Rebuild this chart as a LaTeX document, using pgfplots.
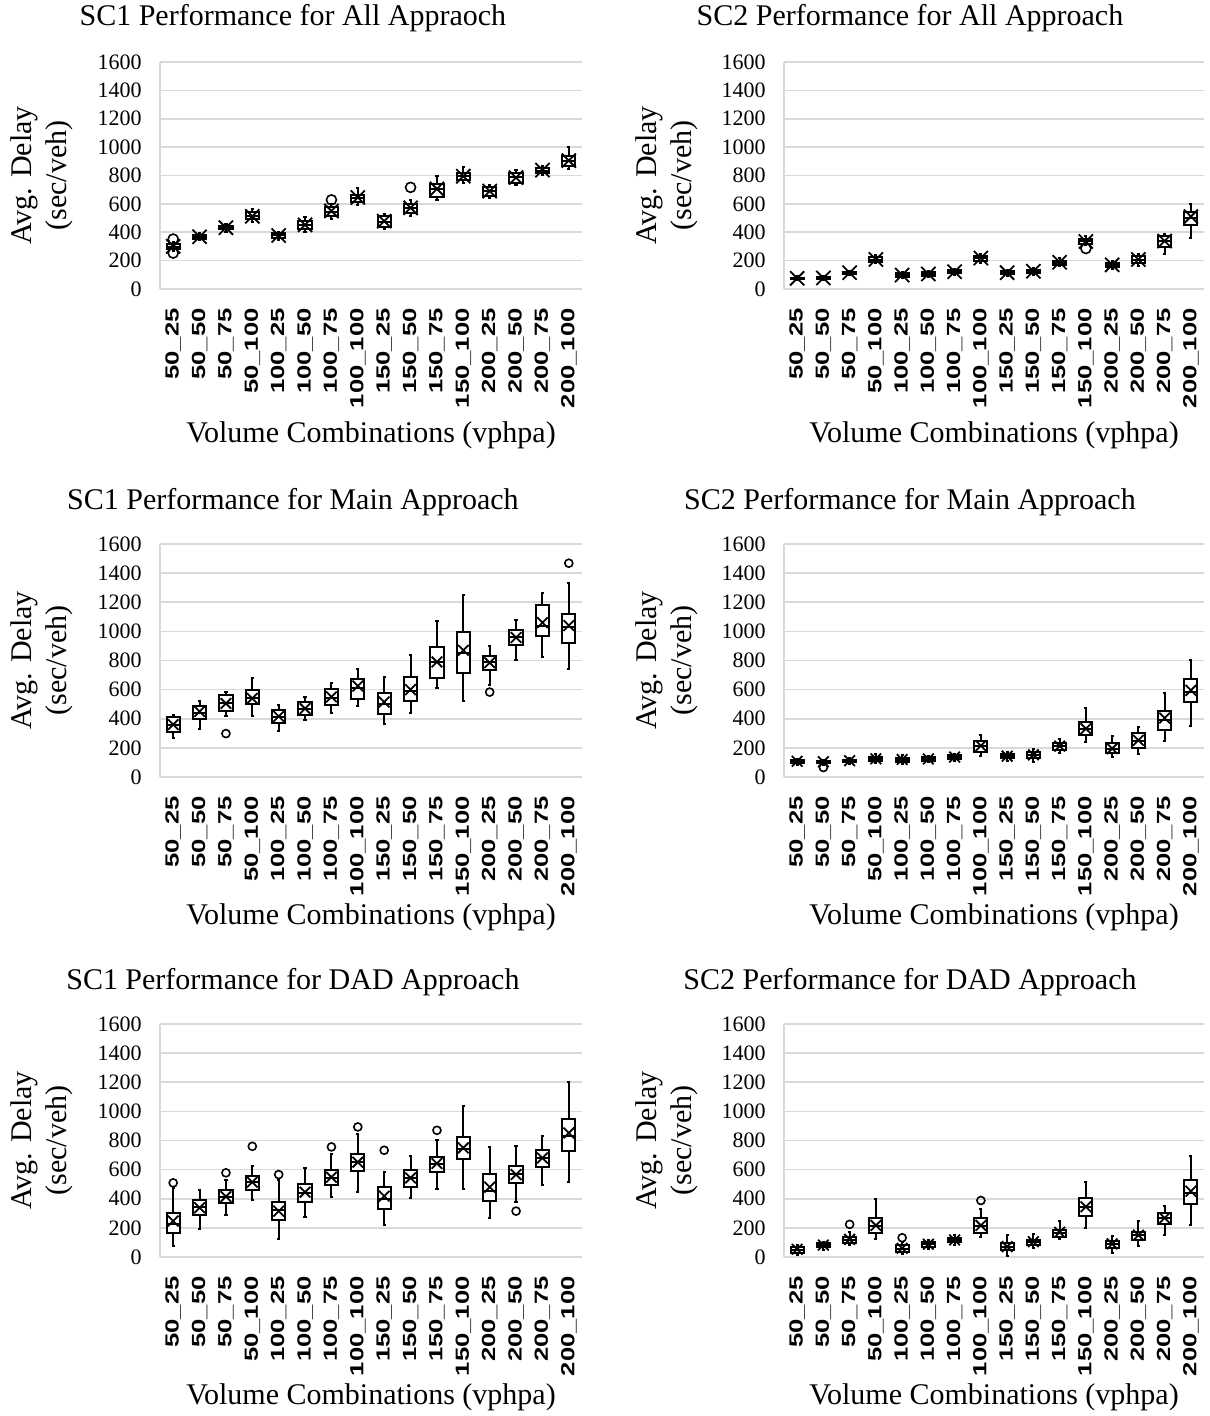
\documentclass[border=0pt]{standalone}
\usepackage{fontspec}
\setmainfont{Liberation Serif}
\newfontfamily\tickfont{Liberation Sans}[FakeStretch=1.35]
\usepackage{pgfplots}
\pgfplotsset{compat=1.18}
\usepgfplotslibrary{statistics}

\definecolor{gridgray}{RGB}{217,217,217}

\pgfplotsset{
  panel/.style={
    scale only axis,
    anchor=south west,
    xmin=-0.5, xmax=15.5,
    ymin=0, ymax=1600,
    ytick={0,200,...,1600},
    xtick={0,...,15},
    xticklabels={50\_25,50\_50,50\_75,50\_100,100\_25,100\_50,100\_75,100\_100,150\_25,150\_50,150\_75,150\_100,200\_25,200\_50,200\_75,200\_100},
    major tick length=0pt,
    ymajorgrids,
    grid style={gridgray, line width=0.8pt},
    axis lines*=left,
    axis line style={gridgray, line width=0.8pt, -},
    /pgf/number format/assume math mode=true,
    /pgf/number format/1000 sep={},
    yticklabel style={font=\fontsize{11}{11}\selectfont, inner sep=0pt},
    yticklabel shift=9pt,
    xticklabel style={rotate=90, anchor=east, inner sep=0pt, font=\tickfont\bfseries\fontsize{9.5}{9.5}\selectfont},
    xticklabel shift=9.5pt,
    ylabel={Avg. Delay\\(sec/veh)},
    xlabel={Volume Combinations (vphpa)},
    every axis y label/.style={at={(axis description cs:-0.28,0.5)}, rotate=90, anchor=center, align=center, font=\fontsize{15}{17.5}\selectfont},
    every axis x label/.style={at={(axis description cs:0.5,0)}, anchor=center, font=\fontsize{15}{17.5}\selectfont},
    clip=false,
    boxplot/draw direction=y,
    boxplot/box extend=0.5,
    boxplot/whisker extend=0.12,
  },
  lefttitle/.style={every axis title/.style={at={(axis description cs:0.315,1)}, anchor=center, yshift=#1, font=\fontsize{15}{18}\selectfont}},
  righttitle/.style={every axis title/.style={at={(axis description cs:0.30,1)}, anchor=center, yshift=#1, font=\fontsize{15}{18}\selectfont}},
  meanmark/.style={only marks, black, mark=x, mark size=#1, mark options={line width=0.9pt}},
  outmark/.style={only marks, black, mark=o, mark size=#1, mark options={line width=0.8pt}},
}

% \bx{position}{lower whisker}{lower quartile}{median}{upper quartile}{upper whisker}
\newcommand{\bx}[6]{%
  \addplot[black, fill=white, line width=1pt,
    boxplot prepared={draw position=#1, lower whisker=#2, lower quartile=#3, median=#4, upper quartile=#5, upper whisker=#6}]
    coordinates {};%
}

\begin{document}
\begin{tikzpicture}
\useasboundingbox (0,0) rectangle (604.5pt,708pt);

% Row 1 left: SC1 All
\begin{axis}[panel, lefttitle=22pt, at={(80pt,563.5pt)}, width=211pt, height=113.5pt,
  title={SC1 Performance for All Appraoch}, xlabel style={yshift=-73pt}]
\bx{0}{270}{280}{295}{318}{330}
\bx{1}{345}{355}{368}{382}{392}
\bx{2}{405}{420}{432}{445}{460}
\bx{3}{470}{490}{515}{545}{565}
\bx{4}{345}{360}{377}{392}{400}
\bx{5}{400}{425}{452}{478}{505}
\bx{6}{490}{515}{545}{575}{598}
\bx{7}{592}{615}{640}{665}{712}
\bx{8}{420}{440}{474}{515}{530}
\bx{9}{515}{535}{570}{600}{625}
\bx{10}{630}{650}{705}{740}{795}
\bx{11}{750}{770}{795}{820}{860}
\bx{12}{640}{655}{690}{720}{735}
\bx{13}{730}{750}{790}{815}{840}
\bx{14}{805}{815}{835}{855}{870}
\bx{15}{845}{870}{905}{940}{1000}
\addplot[meanmark=5pt] coordinates {(0,300) (1,368) (2,432) (3,512) (4,377) (5,452) (6,550) (7,645) (8,478) (9,572) (10,705) (11,795) (12,690) (13,785) (14,838) (15,905)};
\addplot[outmark=2.5pt] coordinates {(0,352) (0,253) (6,628) (9,716)};
\end{axis}

% Row 1 right: SC2 All
\begin{axis}[panel, righttitle=22pt, at={(392pt,563.5pt)}, width=210pt, height=113.5pt,
  title={SC2 Performance for All Approach}, xlabel style={yshift=-73pt}]
\bx{0}{62}{70}{75}{80}{88}
\bx{1}{62}{70}{76}{82}{88}
\bx{2}{100}{108}{115}{122}{130}
\bx{3}{180}{190}{205}{222}{240}
\bx{4}{78}{85}{98}{110}{118}
\bx{5}{85}{95}{106}{118}{125}
\bx{6}{100}{112}{122}{132}{140}
\bx{7}{185}{200}{215}{235}{250}
\bx{8}{95}{105}{115}{125}{135}
\bx{9}{100}{112}{122}{135}{145}
\bx{10}{160}{172}{185}{200}{215}
\bx{11}{310}{320}{338}{355}{370}
\bx{12}{140}{155}{170}{185}{200}
\bx{13}{160}{180}{205}{230}{250}
\bx{14}{250}{295}{335}{370}{390}
\bx{15}{360}{450}{500}{545}{600}
\addplot[meanmark=5pt] coordinates {(0,75) (1,78) (2,115) (3,208) (4,98) (5,106) (6,122) (7,218) (8,115) (9,125) (10,188) (11,335) (12,170) (13,208) (14,338) (15,510)};
\addplot[outmark=2.5pt] coordinates {(11,285)};
\end{axis}

% Row 2 left: SC1 Main
\begin{axis}[panel, lefttitle=21pt, at={(80pt,319.5pt)}, width=211pt, height=116.5pt,
  title={SC1 Performance for Main Approach}, xlabel style={yshift=-70pt}]
\bx{0}{270}{310}{355}{410}{428}
\bx{1}{330}{395}{440}{490}{525}
\bx{2}{418}{455}{510}{560}{582}
\bx{3}{420}{503}{545}{594}{683}
\bx{4}{315}{372}{415}{457}{495}
\bx{5}{390}{425}{470}{512}{548}
\bx{6}{440}{496}{540}{603}{644}
\bx{7}{490}{537}{610}{674}{740}
\bx{8}{365}{432}{500}{575}{690}
\bx{9}{440}{520}{590}{690}{838}
\bx{10}{610}{680}{790}{890}{1070}
\bx{11}{520}{712}{850}{997}{1252}
\bx{12}{635}{732}{790}{830}{899}
\bx{13}{805}{906}{960}{1008}{1076}
\bx{14}{822}{968}{1040}{1180}{1265}
\bx{15}{742}{917}{1030}{1117}{1334}
\addplot[meanmark=3.75pt] coordinates {(0,360) (1,450) (2,505) (3,540) (4,416) (5,470) (6,550) (7,625) (8,515) (9,600) (10,790) (11,870) (12,785) (13,958) (14,1060) (15,1040)};
\addplot[outmark=2pt] coordinates {(2,298) (12,583) (15,1468)};
\end{axis}

% Row 2 right: SC2 Main
\begin{axis}[panel, righttitle=21pt, at={(392pt,319.5pt)}, width=210pt, height=116.5pt,
  title={SC2 Performance for Main Approach}, xlabel style={yshift=-70pt}]
\bx{0}{85}{95}{107}{120}{125}
\bx{1}{85}{95}{105}{112}{120}
\bx{2}{90}{100}{110}{120}{128}
\bx{3}{95}{108}{123}{140}{155}
\bx{4}{88}{105}{118}{133}{150}
\bx{5}{100}{110}{123}{135}{145}
\bx{6}{110}{122}{135}{148}{160}
\bx{7}{145}{172}{210}{245}{290}
\bx{8}{110}{128}{142}{155}{170}
\bx{9}{100}{130}{150}{170}{195}
\bx{10}{165}{185}{210}{235}{260}
\bx{11}{240}{288}{330}{375}{473}
\bx{12}{138}{165}{195}{230}{280}
\bx{13}{155}{200}{250}{300}{343}
\bx{14}{245}{325}{390}{455}{576}
\bx{15}{347}{512}{585}{672}{805}
\addplot[meanmark=3.75pt] coordinates {(0,108) (1,105) (2,112) (3,125) (4,120) (5,124) (6,137) (7,215) (8,143) (9,152) (10,212) (11,332) (12,195) (13,252) (14,405) (15,595)};
\addplot[outmark=2pt] coordinates {(1,65)};
\end{axis}

% Row 3 left: SC1 DAD
\begin{axis}[panel, lefttitle=21pt, at={(80pt,79.5pt)}, width=211pt, height=116.5pt,
  title={SC1 Performance for DAD Approach}, xlabel style={yshift=-70pt}]
\bx{0}{75}{167}{225}{299}{475}
\bx{1}{190}{285}{340}{390}{463}
\bx{2}{288}{368}{410}{463}{532}
\bx{3}{390}{460}{515}{555}{623}
\bx{4}{121}{251}{320}{377}{532}
\bx{5}{276}{379}{440}{498}{612}
\bx{6}{411}{491}{545}{600}{710}
\bx{7}{445}{589}{650}{710}{845}
\bx{8}{217}{331}{400}{482}{584}
\bx{9}{406}{482}{545}{600}{692}
\bx{10}{470}{584}{640}{689}{806}
\bx{11}{470}{674}{740}{824}{1034}
\bx{12}{269}{384}{455}{573}{756}
\bx{13}{377}{505}{570}{623}{765}
\bx{14}{493}{616}{680}{737}{833}
\bx{15}{516}{726}{830}{947}{1205}
\addplot[meanmark=3.75pt] coordinates {(0,247) (1,338) (2,415) (3,514) (4,315) (5,445) (6,548) (7,651) (8,418) (9,543) (10,642) (11,749) (12,480) (13,566) (14,680) (15,852)};
\addplot[outmark=2pt] coordinates {(0,509) (2,578) (3,760) (4,566) (6,756) (7,893) (8,733) (10,870) (13,315)};
\end{axis}

% Row 3 right: SC2 DAD
\begin{axis}[panel, righttitle=21pt, at={(392pt,79.5pt)}, width=210pt, height=116.5pt,
  title={SC2 Performance for DAD Approach}, xlabel style={yshift=-70pt}]
\bx{0}{15}{30}{50}{70}{80}
\bx{1}{50}{68}{80}{95}{105}
\bx{2}{80}{95}{120}{140}{175}
\bx{3}{121}{167}{215}{269}{395}
\bx{4}{20}{35}{55}{80}{100}
\bx{5}{55}{70}{87}{100}{120}
\bx{6}{85}{100}{115}{130}{150}
\bx{7}{137}{167}{215}{269}{333}
\bx{8}{5}{45}{70}{95}{150}
\bx{9}{60}{85}{105}{120}{155}
\bx{10}{121}{140}{162}{185}{247}
\bx{11}{201}{281}{345}{406}{516}
\bx{12}{30}{65}{87}{110}{144}
\bx{13}{75}{120}{148}{175}{247}
\bx{14}{148}{225}{265}{304}{349}
\bx{15}{217}{365}{440}{532}{692}
\addplot[meanmark=3.75pt] coordinates {(0,53) (1,82) (2,121) (3,217) (4,60) (5,88) (6,117) (7,217) (8,71) (9,105) (10,170) (11,345) (12,90) (13,150) (14,268) (15,452)};
\addplot[outmark=2pt] coordinates {(2,224) (4,132) (7,388)};
\end{axis}
\end{tikzpicture}
\end{document}
